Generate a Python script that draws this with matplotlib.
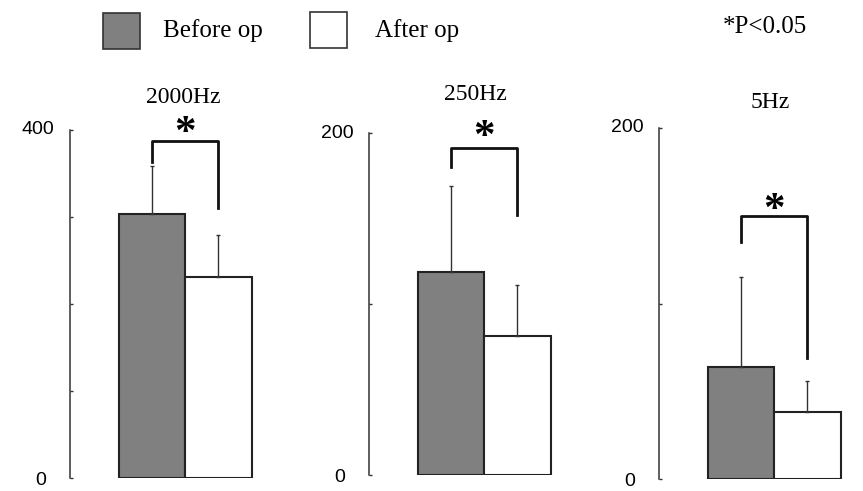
import matplotlib
matplotlib.use("Agg")
import matplotlib.pyplot as plt
from matplotlib.patches import Rectangle

# data
panels = ["2000Hz", "250Hz", "5Hz"]
ymax = [400, 200, 200]
before_mean = [303, 119, 64]
before_sd = [56, 50, 51]
after_mean = [231, 81, 38]
after_sd = [48, 30, 18]
# significance brackets: left foot, top, right foot (data units)
br_left = [363, 180, 135]
br_top = [387, 191, 150]
br_right = [310, 152, 69]
star_y = [407, 203, 158]
minor_ticks = [[100, 200, 300], [100], [100]]

W, H = 863, 491
fig = plt.figure(figsize=(W / 100, H / 100), dpi=100)

serif = ["Liberation Serif", "DejaVu Serif"]
sans = ["Liberation Sans", "DejaVu Sans"]

# axes geometry in pixels: (left, bottom, top)
boxes = [(70, 478, 130), (369, 475, 133), (659, 479, 128)]
title_pos = [(183.5, 103), (475.5, 100), (770, 108)]
xl = (-1.23, 1.8)
bw_px = 66.5

for i in range(3):
    left, bot, top = boxes[i]
    wpx = (xl[1] - xl[0]) * bw_px
    ax = fig.add_axes([left / W, 1 - bot / H, wpx / W, (bot - top) / H])
    ax.bar([0], [before_mean[i]], width=1, color="#808080",
           edgecolor="#222222", linewidth=1.5)
    ax.bar([1], [after_mean[i]], width=1, color="white",
           edgecolor="#222222", linewidth=1.5)
    ax.errorbar([0, 1], [before_mean[i], after_mean[i]],
                yerr=[[0, 0], [before_sd[i], after_sd[i]]],
                fmt="none", ecolor="#333333", elinewidth=1.0, capsize=1.5)
    ax.plot([0, 0, 1, 1], [br_left[i], br_top[i], br_top[i], br_right[i]],
            color="#111111", lw=2, clip_on=False)
    ax.annotate("*", (0.5, star_y[i]), xytext=(0, -7), textcoords="offset points",
                ha="center", va="center", fontsize=31, fontweight="bold",
                family=serif, annotation_clip=False)

    ax.set_xlim(*xl)
    ax.set_ylim(0, ymax[i])
    for s in ["top", "right", "bottom"]:
        ax.spines[s].set_visible(False)
    ax.spines["left"].set_color("#333333")
    ax.spines["left"].set_linewidth(1.1)
    ax.set_xticks([])
    ax.set_yticks([0] + minor_ticks[i] + [ymax[i]])
    ax.set_yticklabels([])
    ax.tick_params(axis="y", direction="in", length=2, width=1, colors="#333333")

    ax.annotate(str(ymax[i]), (0, ymax[i]), xycoords=("axes fraction", "data"),
                xytext=(-11, 0), textcoords="offset points",
                ha="right", va="center", fontsize=14, family=sans)
    ax.annotate("0", (0, 0), xycoords=("axes fraction", "data"),
                xytext=(-17, -1.5), textcoords="offset points",
                ha="right", va="center", fontsize=14, family=sans)

    tx, ty = title_pos[i]
    fig.text(tx / W, 1 - ty / H, panels[i], ha="center", va="baseline",
             fontsize=17, family=serif)

# legend
fig.patches.append(Rectangle((103 / W, 1 - 49 / H), 37 / W, 36 / H,
                             transform=fig.transFigure, facecolor="#808080",
                             edgecolor="#333333", linewidth=1.2))
fig.patches.append(Rectangle((310 / W, 1 - 48 / H), 37 / W, 36 / H,
                             transform=fig.transFigure, facecolor="white",
                             edgecolor="#333333", linewidth=1.2))
fig.text(163 / W, 1 - 37 / H, "Before op", ha="left", va="baseline",
         fontsize=18, family=serif)
fig.text(375 / W, 1 - 37 / H, "After op", ha="left", va="baseline",
         fontsize=18, family=serif)
fig.text(723 / W, 1 - 33 / H, "*P<0.05", ha="left", va="baseline",
         fontsize=18, family=serif)

fig.savefig("out.png", dpi=100)
